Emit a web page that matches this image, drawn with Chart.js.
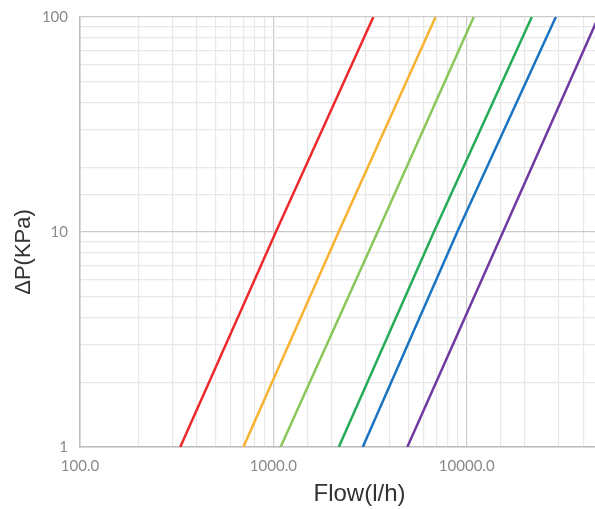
<!DOCTYPE html>
<html>
<head>
<meta charset="utf-8">
<script src="https://cdn.jsdelivr.net/npm/chart.js@4/dist/chart.umd.min.js"></script>
<style>
  html, body { margin: 0; padding: 0; overflow: hidden; background: #fff; }
  /* chart is a bit bigger than the window, the right side is cut off like the reference */
  #wrap { width: 649px; height: 513px; margin-top: -4px; }
</style>
</head>
<body>
<div id="wrap"><canvas id="chart"></canvas></div>
<script>
// pressure drop points (KPa) and flow read at each of them (l/h)
var dp = [1, 10, 100];
var flowRed = [330, 1030, 3290];
var flowOrange = [700, 2175, 6900];
var flowLightGreen = [1090, 3460, 10870];
var flowGreen = [2180, 6760, 21700];
var flowBlue = [2900, 8930, 28900];
var flowPurple = [4930, 15400, 48000];

var xMin = 100, xMax = 77800;
var yMin = 1, yMax = 100;

function pts(flow) {
    return flow.map(function(q, i) { return { x: q, y: dp[i] }; });
}

function line(label, flow, color) {
    return {
        label: label,
        data: pts(flow),
        borderColor: color,
        backgroundColor: color,
        borderWidth: 2.5,
        pointRadius: 0,
        tension: 0
    };
}

function isDecade(v) {
    var l = Math.log10(v);
    return Math.abs(l - Math.round(l)) < 1e-9;
}

function gridColor(ctx) {
    var v = ctx.tick && ctx.tick.value;
    if (v === undefined) return '#e6e6e6';
    return isDecade(v) ? '#cbcbcb' : '#e8e8e8';
}

// y axis title sits a little below the middle in the reference, drawn by hand
var yTitle = {
    id: 'yTitle',
    afterDraw: function(chart) {
        var c = chart.ctx;
        c.save();
        c.translate(24, 256);
        c.rotate(-Math.PI / 2);
        c.font = '22px "Liberation Sans", Arial, sans-serif';
        c.fillStyle = '#333333';
        c.textAlign = 'center';
        c.textBaseline = 'middle';
        c.fillText('\u0394P(KPa)', 0, 0);
        c.restore();
    }
};

var ctx = document.getElementById('chart').getContext('2d');
new Chart(ctx, {
    type: 'line',
    data: {
        datasets: [
            line('red', flowRed, '#ec2a2c'),
            line('orange', flowOrange, '#f6b230'),
            line('light green', flowLightGreen, '#89c75a'),
            line('green', flowGreen, '#25ac56'),
            line('blue', flowBlue, '#1b74c1'),
            line('purple', flowPurple, '#7039a2')
        ]
    },
    options: {
        responsive: true,
        maintainAspectRatio: false,
        animation: false,
        layout: { padding: { top: 12, right: 0, left: 0, bottom: 0 } },
        plugins: { legend: { display: false }, tooltip: { enabled: false } },
        scales: {
            x: {
                type: 'logarithmic',
                min: xMin,
                max: xMax,
                afterFit: function(s) { s.height = 62; },
                grid: { color: gridColor, lineWidth: 1.2, drawTicks: false },
                border: { color: '#bdbdbd', width: 1.5 },
                ticks: {
                    autoSkip: false,
                    maxRotation: 0,
                    padding: 10,
                    color: '#8a8a8a',
                    font: { family: 'Lato, "Open Sans", sans-serif', size: 15 },
                    callback: function(v) { return isDecade(v) ? v.toFixed(1) : ''; }
                },
                title: {
                    display: true,
                    text: 'Flow(l/h)',
                    color: '#333333',
                    padding: { top: 0, bottom: 0 },
                    font: { family: '"Liberation Sans", Arial, sans-serif', size: 24 }
                }
            },
            y: {
                type: 'logarithmic',
                min: yMin,
                max: yMax,
                afterFit: function(s) { s.width = 80; },
                grid: { color: gridColor, lineWidth: 1.2, drawTicks: false },
                border: { color: '#bdbdbd', width: 1.5 },
                ticks: {
                    autoSkip: false,
                    padding: 12,
                    color: '#8a8a8a',
                    font: { family: 'Lato, "Open Sans", sans-serif', size: 15 },
                    callback: function(v) { return isDecade(v) ? String(v) : ''; }
                }
            }
        }
    },
    plugins: [yTitle]
});
</script>
</body>
</html>
